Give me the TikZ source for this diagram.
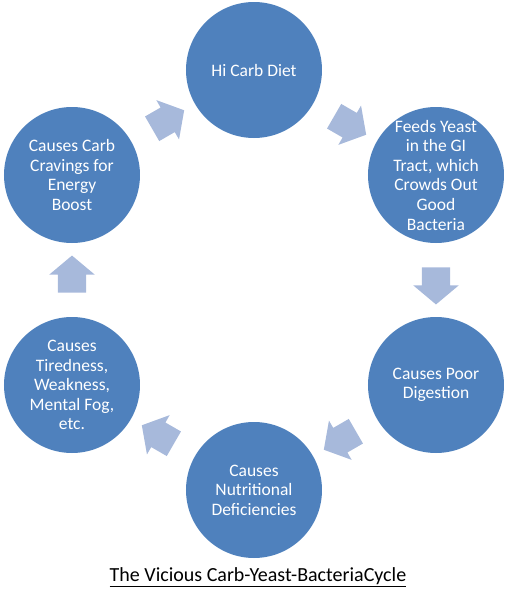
\documentclass[tikz,border=0pt]{standalone}
\usepackage{fontspec}
\setmainfont{Carlito}
\usetikzlibrary{shapes.arrows,calc}
\definecolor{cycleblue}{RGB}{79,129,189}
\definecolor{arrowblue}{RGB}{167,185,219}
\tikzset{
  font={\fontsize{17.5pt}{19.6pt}\selectfont}}

\begin{document}
\begin{tikzpicture}[x=1pt,y=1pt]
\tikzstyle{every node}+=[inner sep=0pt]
\tikzstyle{stage}=[circle,fill=cycleblue,minimum size=136pt]
\tikzstyle{words}=[text=white,align=center]
\tikzstyle{turn}=[single arrow,fill=arrowblue,inner xsep=0pt,inner ysep=14pt,minimum height=37pt,single arrow head extend=8.5pt,single arrow tip angle=100]
\useasboundingbox (-254,-310) rectangle (254,280);
\node [stage] (diet) at (0,210) {};
\node [words] at (diet) {Hi Carb Diet};
\node [stage] (yeast) at (182,105) {};
\node [words] at (yeast) {Feeds Yeast\\in the GI\\Tract, which\\Crowds Out\\Good\\Bacteria};
\node [stage] (digest) at (182,-105) {};
\node [words] at (digest) {Causes Poor\\Digestion};
\node [stage] (deficit) at (0,-210) {};
\node [words] at (deficit) {Causes\\Nutritional\\Deficiencies};
\node [stage] (tired) at (-182,-105) {};
\node [words] at (tired) {Causes\\Tiredness,\\Weakness,\\Mental Fog,\\etc.};
\node [stage] (crave) at (-182,105) {};
\node [words] at (crave) {Causes Carb\\Cravings for\\Energy\\Boost};
\node [turn,rotate=-30] (t1) at ($(diet)!0.5!(yeast)$) {};
\node [turn,rotate=-90] (t2) at ($(yeast)!0.5!(digest)$) {};
\node [turn,rotate=-150] (t3) at ($(digest)!0.5!(deficit)$) {};
\node [turn,rotate=150] (t4) at ($(deficit)!0.5!(tired)$) {};
\node [turn,rotate=90] (t5) at ($(tired)!0.5!(crave)$) {};
\node [turn,rotate=30] (t6) at ($(crave)!0.5!(diet)$) {};
\node (title) at (4,-297) {\fontsize{20pt}{24pt}\selectfont\underline{The Vicious Carb-Yeast-BacteriaCycle}};
\end{tikzpicture}
\end{document}
